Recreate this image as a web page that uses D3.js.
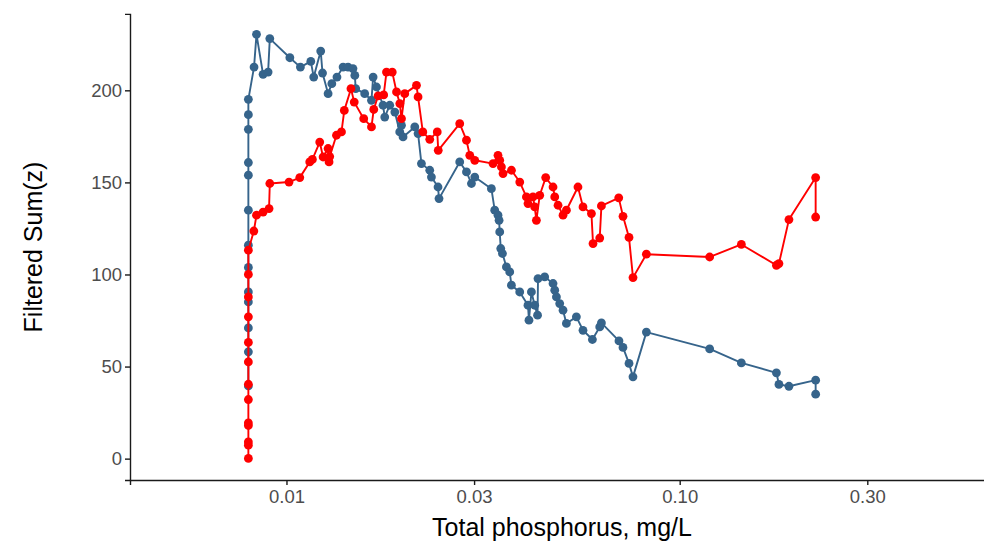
<!DOCTYPE html>
<html>
<head>
<meta charset="utf-8">
<script src="https://cdn.jsdelivr.net/npm/d3@7"></script>
<style>
  body { margin: 0; background: #fff; }
  svg { display: block; font-family: "Liberation Sans", Arial, sans-serif; }
  .axis path, .axis line { stroke: #1a1a1a; stroke-width: 1.4px; }
  .axis text { fill: #4d4d4d; font-size: 18.5px; }
  .title { font-size: 25px; fill: #000; }
</style>
</head>
<body>
<div id="chart"></div>
<script>
var width = 984,
    height = 545;

// ticks
var xTicks = [0.01, 0.03, 0.1, 0.3];
var xTickLabels = ['0.01', '0.03', '0.10', '0.30'];
var yTicks = [0, 50, 100, 150, 200];

// blue series (total phosphorus mg/L, filtered sum z)
var blueTP = [0.008, 0.008, 0.008, 0.008, 0.008, 0.008, 0.008, 0.008, 0.008, 0.008, 0.008, 0.008, 0.008,
  0.00827, 0.00839, 0.00872, 0.00898, 0.00907, 0.0102, 0.01085, 0.01153, 0.01173, 0.01222, 0.01235, 0.01276,
  0.01304, 0.01344, 0.01393, 0.01434, 0.01476, 0.01492, 0.015, 0.01581, 0.01645, 0.01661, 0.01694, 0.0176,
  0.01778, 0.01831, 0.01886, 0.01941, 0.01961, 0.01979, 0.0212, 0.02161, 0.02204, 0.02314, 0.02337, 0.02429,
  0.02443, 0.02758, 0.02869, 0.02954, 0.03012, 0.0332, 0.03385, 0.03451, 0.03473, 0.03486, 0.03507, 0.03542,
  0.03625, 0.03696, 0.03733, 0.03919, 0.04113, 0.04137, 0.04197, 0.04278, 0.0435, 0.04362, 0.04536, 0.04763,
  0.04811, 0.04859, 0.04953, 0.0505, 0.05151, 0.05461, 0.05677, 0.05998, 0.06261, 0.06323, 0.07008, 0.07174,
  0.07432, 0.07607, 0.08228, 0.1192, 0.1435, 0.1762, 0.1788, 0.1896, 0.2217, 0.2217];
var blueSum = [39.5, 58, 71, 85.1, 90.5, 103.8, 115.9, 134.9, 153.9, 160.8, 178.8, 186.8, 195.1,
  212.6, 230.4, 208.7, 209.9, 228.1, 217.7, 212.6, 215.7, 207.2, 221.3, 209.4, 198.2,
  203.6, 207.2, 212.6, 212.6, 211.8, 208.1, 200.9, 198.2, 194.6, 207.2, 201.8, 191.9,
  185.5, 191.9, 188.2, 177.4, 181, 174.7, 180.1, 176.5, 160.2, 156.6, 152.9, 147.5,
  141.2, 161.1, 155.7, 149.4, 152.9, 146.6, 134.9, 132.2, 129.4, 123.1, 114.1, 111.4,
  104.1, 101.4, 94.2, 90.5, 83.3, 75.2, 90.5, 83.3, 77.9, 97.8, 98.7, 95.1,
  91.5, 87.8, 84.2, 80.6, 73.4, 77, 69.7, 64.7, 71.5, 73.7, 63.9, 60.4,
  51.7, 44.4, 68.7, 59.6, 52, 46.6, 40.3, 39.3, 42.6, 35];

// red series
var redTP = [0.008, 0.008, 0.008, 0.008, 0.008, 0.008, 0.008, 0.008, 0.008, 0.008, 0.008, 0.008, 0.008,
  0.00826, 0.00839, 0.00872, 0.00903, 0.00907, 0.01015, 0.01081, 0.01146, 0.01164, 0.01215, 0.01239, 0.01276,
  0.01283, 0.01288, 0.0134, 0.0138, 0.01403, 0.01459, 0.01487, 0.01572, 0.01645, 0.01667, 0.0171, 0.01767,
  0.01796, 0.01858, 0.01905, 0.01942, 0.01961, 0.01999, 0.02141, 0.02161, 0.02222, 0.02314, 0.02418, 0.02432,
  0.02758, 0.02869, 0.02925, 0.03012, 0.03352, 0.03451, 0.03486, 0.03521, 0.03554, 0.03734, 0.0392, 0.04076,
  0.04114, 0.04236, 0.04278, 0.04321, 0.04406, 0.04563, 0.04763, 0.04811, 0.04905, 0.0505, 0.05151, 0.05512,
  0.05677, 0.05964, 0.0602, 0.06261, 0.06323, 0.06998, 0.07176, 0.07432, 0.07608, 0.08228, 0.1192, 0.1435,
  0.1762, 0.1788, 0.1896, 0.2217, 0.2217];
var redSum = [0.1, 7.3, 9.1, 18, 19.4, 32.1, 40.4, 52.5, 63.1, 77, 87.8, 100, 113.2,
  123.6, 132.2, 133.9, 135.8, 149.4, 150.2, 152.6, 161.1, 162.5, 171.9, 163.8, 168.4,
  161.1, 164, 175.6, 177.4, 189.1, 200.9, 193.6, 184.6, 180.1, 189.6, 197, 197.5,
  209.9, 209.9, 199.1, 192.8, 184.6, 198.2, 202.7, 196.4, 177.4, 173.4, 177.4, 167.4,
  181.9, 172.9, 164.7, 162, 160.2, 164.7, 162, 158.4, 154.8, 156.6, 150.2, 142.1,
  138.5, 142.1, 136.7, 129.4, 143, 152.6, 147.5, 142.1, 137.6, 132.2, 134.9, 147.5,
  136.7, 133.1, 116.8, 119.8, 137.2, 141.6, 131.6, 120.1, 98.3, 111, 109.5, 116.3,
  105, 105.9, 129.8, 152.6, 131.2];

var series = [
  {color: '#36648b', tp: blueTP, sum: blueSum},
  {color: '#ff0000', tp: redTP, sum: redSum}
];

var svg = d3.select('#chart')
    .append('svg')
    .attr('width', width)
    .attr('height', height);

var x = d3.scaleLog()
    .domain([0.004, 0.63])
    .range([130, 994]);

var y = d3.scaleLinear()
    .domain([-11.6, 241.5])
    .range([480, 13.9]);

var line = d3.line()
    .x(d => x(d[0]))
    .y(d => y(d[1]));

series.forEach(s => {
    var pts = s.tp.map((v, i) => [v, s.sum[i]]);
    var g = svg.append('g');
    g.append('path')
        .datum(pts)
        .attr('fill', 'none')
        .attr('stroke', s.color)
        .attr('stroke-width', 1.9)
        .attr('stroke-linejoin', 'round')
        .attr('d', line);
    g.selectAll('circle')
        .data(pts)
        .enter()
        .append('circle')
        .attr('cx', d => x(d[0]))
        .attr('cy', d => y(d[1]))
        .attr('r', 4.4)
        .attr('fill', s.color);
});

svg.append('g')
    .attr('class', 'axis')
    .attr('transform', 'translate(0,480)')
    .call(d3.axisBottom(x)
        .tickValues(xTicks)
        .tickFormat((d, i) => xTickLabels[i])
        .tickSizeOuter(0)
        .tickSize(5)
        .tickPadding(5));

svg.append('g')
    .attr('class', 'axis')
    .attr('transform', 'translate(130,0)')
    .call(d3.axisLeft(y)
        .tickValues(yTicks)
        .tickSizeOuter(0)
        .tickSize(5)
        .tickPadding(3));

svg.selectAll('.axis .domain').attr('stroke-width', 1.8);

svg.append('text')
    .attr('class', 'title')
    .attr('x', 562)
    .attr('y', 536)
    .attr('text-anchor', 'middle')
    .text('Total phosphorus, mg/L');

svg.append('text')
    .attr('class', 'title')
    .attr('transform', 'translate(42,247) rotate(-90)')
    .attr('text-anchor', 'middle')
    .text('Filtered Sum(z)');
</script>
</body>
</html>
